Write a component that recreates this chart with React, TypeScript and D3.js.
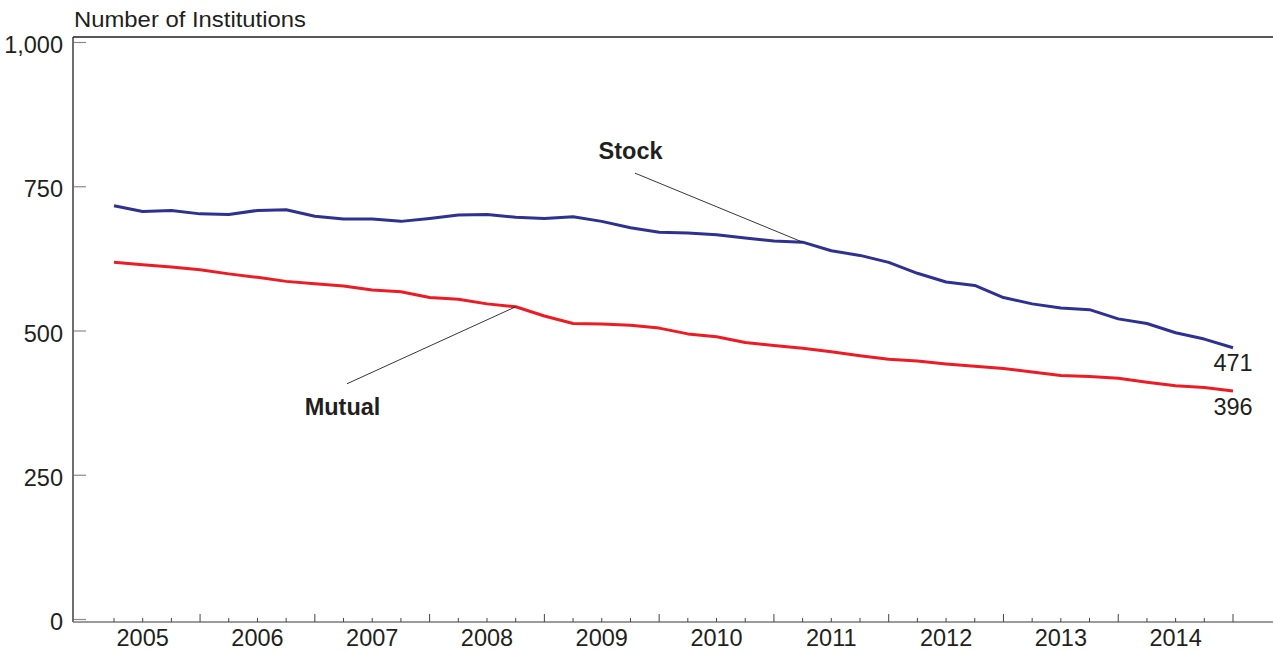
import React from "react";
import * as d3 from "d3";

// Quarterly data, 2005 Q1 .. 2014 Q4
const quarters: number[] = d3.range(40).map((i) => 2005 + (i + 1) / 4);
const stockValues: number[] = [
  717, 707, 709, 703, 702, 709, 710, 699, 694, 694, 690, 695,
  701, 702, 697, 695, 698, 690, 679, 671, 670, 667, 661, 656,
  654, 639, 631, 619, 600, 585, 579, 558, 547, 540, 537, 521,
  513, 497, 486, 471,
];
const mutualValues: number[] = [
  619, 615, 611, 606, 599, 593, 586, 582, 578, 571, 568, 558,
  555, 547, 542, 526, 513, 512, 510, 505, 495, 490, 480, 475,
  470, 464, 457, 451, 448, 443, 439, 435, 429, 423, 421, 418,
  411, 405, 402, 396,
];
const years: number[] = d3.range(2005, 2015);
const yTicks: number[] = [0, 250, 500, 750, 1000];

const W = 1273;
const H = 651;
const left = 73;
const right = 1273;
const top = 37;
const axisY = 622;

const x = d3.scaleLinear().domain([2005, 2015]).range([85.3, 1233]);
const y = d3.scaleLinear().domain([0, 1000]).range([619.5, 42.5]);

const line = d3
  .line<number>()
  .x((_, i) => x(quarters[i]))
  .y((d) => y(d));

const fmt = d3.format(",");
const FONT = "'Liberation Sans', Arial, Helvetica, sans-serif";
const FS = 23.5;

export default function App() {
  const stockIdx = 24;
  const mutualIdx = 14;
  const sp = [x(quarters[stockIdx]), y(stockValues[stockIdx])];
  const mp = [x(quarters[mutualIdx]), y(mutualValues[mutualIdx])];
  const last = quarters.length - 1;
  return (
    <svg
      width={W}
      height={H}
      style={{ position: "absolute", left: 0, top: 0, background: "#fff" }}
      fontFamily={FONT}
    >
      {/* title */}
      <text x={74} y={27} fontSize={21.5} fill="#231f20" textLength={232} lengthAdjust="spacingAndGlyphs">
        Number of Institutions
      </text>
      {/* frame */}
      <line x1={left} x2={right} y1={top} y2={top} stroke="#231f20" strokeWidth={1.3} />
      <line x1={left} x2={left} y1={top} y2={axisY} stroke="#231f20" strokeWidth={1.3} />
      {/* y ticks */}
      {yTicks.map((t) => (
        <g key={t}>
          <line x1={left + 1} x2={left + 13} y1={y(t)} y2={y(t)} stroke="#8a8a8a" strokeWidth={1.2} />
          <text x={63} y={y(t) + 10.5} fontSize={FS} textAnchor="end" fill="#231f20">
            {fmt(t)}
          </text>
        </g>
      ))}
      {/* x axis */}
      <line x1={left} x2={right} y1={axisY} y2={axisY} stroke="#7a7a7a" strokeWidth={1.6} />
      {quarters.map((q, i) => {
        const major = (i + 1) % 4 === 0;
        return (
          <line
            key={i}
            x1={x(q)}
            x2={x(q)}
            y1={axisY}
            y2={axisY - (major ? 8 : 4)}
            stroke="#444"
            strokeWidth={1}
          />
        );
      })}
      {years.map((yr) => (
        <text key={yr} x={x(yr + 0.5)} y={646} fontSize={FS} textAnchor="middle" fill="#231f20">
          {yr}
        </text>
      ))}
      {/* series */}
      <path d={line(stockValues) || ""} fill="none" stroke="#2e3192" strokeWidth={3} strokeLinejoin="round" />
      <path d={line(mutualValues) || ""} fill="none" stroke="#ed1c24" strokeWidth={3} strokeLinejoin="round" />
      {/* end labels */}
      <text x={x(quarters[last])} y={y(stockValues[last]) + 23.5} fontSize={FS} textAnchor="middle" fill="#231f20">
        {stockValues[last]}
      </text>
      <text x={x(quarters[last])} y={y(mutualValues[last]) + 24} fontSize={FS} textAnchor="middle" fill="#231f20">
        {mutualValues[last]}
      </text>
      {/* annotations */}
      <line x1={sp[0] - 167.6} y1={sp[1] - 69} x2={sp[0]} y2={sp[1]} stroke="#231f20" strokeWidth={0.9} />
      <text x={sp[0] - 204} y={sp[1] - 83} fontSize={FS} fontWeight="bold" fill="#231f20">
        Stock
      </text>
      <line x1={mp[0] - 168.7} y1={mp[1] + 77} x2={mp[0]} y2={mp[1]} stroke="#231f20" strokeWidth={0.9} />
      <text x={mp[0] - 211} y={mp[1] + 108} fontSize={FS} fontWeight="bold" fill="#231f20">
        Mutual
      </text>
    </svg>
  );
}
